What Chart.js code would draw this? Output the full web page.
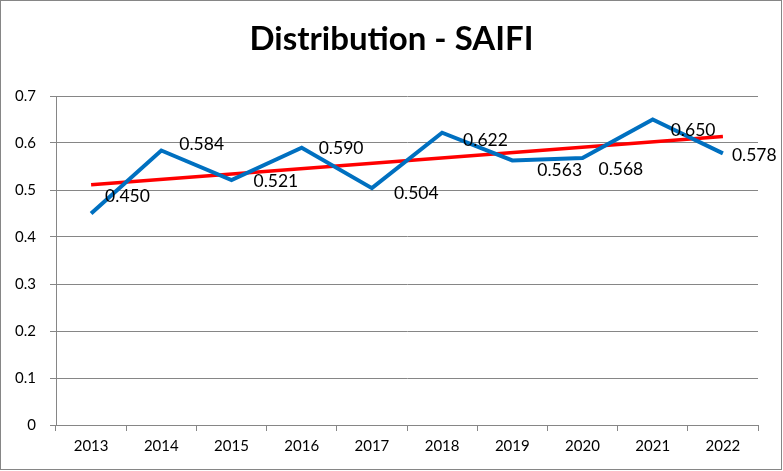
<!DOCTYPE html>
<html>
<head>
<meta charset="utf-8">
<script src="https://cdn.jsdelivr.net/npm/chart.js@4"></script>
<style>
  html, body { margin: 0; padding: 0; background: #fff; }
  #wrap { width: 783px; height: 471px; position: relative; }
</style>
</head>
<body>
<div id="wrap"><canvas id="c" width="783" height="471"></canvas></div>
<script>
// ---- data ----
const years = ['2013','2014','2015','2016','2017','2018','2019','2020','2021','2022'];
const saifi = [0.450, 0.584, 0.521, 0.590, 0.504, 0.622, 0.563, 0.568, 0.650, 0.578];
const trendEnds = [0.511, 0.614]; // linear trendline value at first and last year
const yTicks = [0, 0.1, 0.2, 0.3, 0.4, 0.5, 0.6, 0.7];
const titleText = 'Distribution - SAIFI';

// trend series: only endpoints, joined across the gap
const trendSeries = years.map((_, i) => i === 0 ? trendEnds[0] : (i === years.length - 1 ? trendEnds[1] : null));

// label placement (style): nudge in px for each data label
const labelDy = [-17, -6, 1, 1, 5, 8, 10, 11, 11, 2];
const labelDx = [14, 18, 22, 17, 22, 21, 25, 16, 18, 9];

const FONT = 'Lato, "Open Sans", sans-serif';

const frame = {
  id: 'frame',
  beforeDraw(chart) {
    const ctx = chart.ctx;
    ctx.save();
    ctx.fillStyle = '#fff';
    ctx.fillRect(0, 0, chart.width, chart.height);
    ctx.restore();
  },
  afterDraw(chart) {
    const ctx = chart.ctx;
    ctx.save();
    ctx.strokeStyle = '#868686';
    ctx.lineWidth = 1;
    ctx.strokeRect(0.5, 0.5, chart.width - 2, chart.height - 2);
    // chart title, centred on the whole chart
    ctx.fillStyle = '#000';
    ctx.font = 'bold 33px ' + FONT;
    ctx.textAlign = 'center';
    ctx.textBaseline = 'alphabetic';
    ctx.fillText(titleText, chart.width / 2, 50);
    ctx.restore();
  }
};

const dataLabels = {
  id: 'dataLabels',
  afterDatasetsDraw(chart) {
    const ctx = chart.ctx;
    const meta = chart.getDatasetMeta(0);
    ctx.save();
    ctx.font = '17.5px ' + FONT;
    ctx.fillStyle = '#000';
    ctx.textAlign = 'left';
    ctx.textBaseline = 'middle';
    meta.data.forEach((pt, i) => {
      ctx.fillText(saifi[i].toFixed(3), pt.x + labelDx[i], pt.y + labelDy[i]);
    });
    ctx.restore();
  }
};

new Chart(document.getElementById('c'), {
  type: 'line',
  data: {
    labels: years,
    datasets: [
      {
        label: 'SAIFI',
        data: saifi,
        borderColor: '#0070C0',
        borderWidth: 4,
        pointRadius: 0,
        tension: 0,
        fill: false
      },
      {
        label: 'Trend',
        data: trendSeries,
        borderColor: '#FF0000',
        borderWidth: 3.5,
        pointRadius: 0,
        spanGaps: true,
        tension: 0,
        fill: false
      }
    ]
  },
  options: {
    responsive: false,
    animation: false,
    devicePixelRatio: 1,
    layout: { padding: { left: 0, right: 25, top: 96, bottom: 0 } },
    plugins: {
      legend: { display: false },
      tooltip: { enabled: false },
      title: { display: false }
    },
    scales: {
      x: {
        type: 'category',
        offset: true,
        grid: {
          offset: true,
          drawOnChartArea: false,
          drawTicks: true,
          tickLength: 6,
          color: '#868686'
        },
        border: { display: true, color: '#868686', width: 1 },
        ticks: { color: '#000', font: { family: FONT, size: 15 }, padding: 6, maxRotation: 0 },
        afterFit(s) { s.height = 46; }
      },
      y: {
        min: 0,
        max: 0.7,
        afterBuildTicks(s) { s.ticks = yTicks.map(v => ({ value: v })); },
        grid: { color: '#868686', tickLength: 6, drawTicks: true },
        border: { display: true, color: '#868686', width: 1 },
        ticks: {
          color: '#000',
          font: { family: FONT, size: 15 },
          padding: 14,
          callback: v => String(Math.round(v * 10) / 10)
        },
        afterFit(s) { s.width = 56; }
      }
    }
  },
  plugins: [frame, dataLabels]
});
</script>
</body>
</html>
